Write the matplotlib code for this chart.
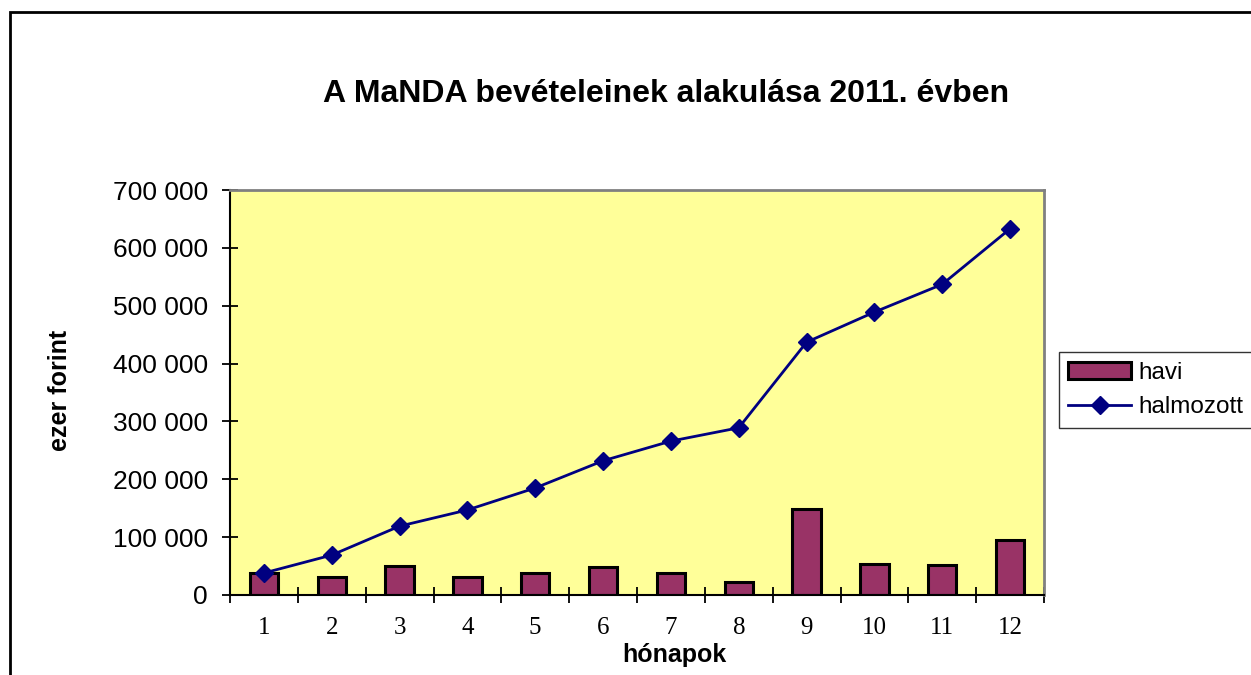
import matplotlib.pyplot as plt
from matplotlib.patches import Rectangle
from matplotlib.ticker import FuncFormatter, FixedLocator
import numpy as np

# adatok (ezer forint)
honapok = [1, 2, 3, 4, 5, 6, 7, 8, 9, 10, 11, 12]
havi = [38000, 31000, 50000, 31000, 38000, 48000, 38000, 22000, 149000, 53000, 51000, 95000]
halmozott = [38000, 69000, 119000, 147000, 185000, 232000, 266000, 289000, 437000, 489000, 537000, 633000]

title = 'A MaNDA bevételeinek alakulása 2011. évben'

plt.rcParams['font.family'] = ['Liberation Sans', 'DejaVu Sans']

fig = plt.figure(figsize=(12.51, 6.75), dpi=100)
ax = fig.add_axes([230 / 1251, 1 - 595 / 675, 814 / 1251, 405 / 675])

x = np.array(honapok)
bars = ax.bar(x, havi, width=0.42, color='#993366', edgecolor='black', linewidth=2.2,
              label='havi', zorder=2)
line, = ax.plot(x, halmozott, color='#000080', linewidth=2, marker='D', markersize=9,
                label='halmozott', zorder=3)

ax.set_xlim(0.5, 12.5)
ax.set_ylim(0, 700000)
ax.set_facecolor('#FFFF99')

# y tengely
ax.set_yticks(np.arange(0, 700001, 100000))
ax.yaxis.set_major_formatter(FuncFormatter(lambda v, p: f'{int(v):,}'.replace(',', ' ')))
ax.tick_params(axis='y', direction='inout', length=12, width=1.3, labelsize=19, pad=10)

# x tengely: címkék a kategóriák közepén, osztások a határokon
ax.set_xticks(x)
ax.set_xticklabels([str(h) for h in honapok], fontfamily='Liberation Serif', fontsize=18)
ax.tick_params(axis='x', which='major', length=0, pad=16)
ax.xaxis.set_minor_locator(FixedLocator(np.arange(0.5, 12.6, 1)))
ax.tick_params(axis='x', which='minor', direction='inout', length=12, width=1.3)

for s in ['top', 'right']:
    ax.spines[s].set_color('#808080')
    ax.spines[s].set_linewidth(2)
for s in ['left', 'bottom']:
    ax.spines[s].set_color('black')
    ax.spines[s].set_linewidth(1.5)

fig.text(666 / 1251, 1 - 94 / 675, title, ha='center', va='center',
         fontsize=23, fontweight='bold')
fig.text(60 / 1251, 1 - 390 / 675, 'ezer forint', ha='center', va='center',
         rotation=90, fontsize=18, fontweight='bold')
fig.text(674 / 1251, 1 - 655 / 675, 'hónapok', ha='center', va='center',
         fontsize=18, fontweight='bold')

leg = fig.legend([bars, line], ['havi', 'halmozott'], loc='center',
                 bbox_to_anchor=(1156 / 1251, 1 - 390 / 675),
                 fontsize=17.5, frameon=True, fancybox=False, edgecolor='black',
                 handlelength=2.6, handletextpad=0.3, borderpad=0.4,
                 labelspacing=0.5, borderaxespad=0)
leg.get_frame().set_linewidth(1)

# külső keret
fig.patches.append(Rectangle((10 / 1251, -0.1), 1.1, 1 - 12 / 675 + 0.1,
                             transform=fig.transFigure, fill=False,
                             edgecolor='black', linewidth=2))

fig.savefig('out.png', dpi=100)
